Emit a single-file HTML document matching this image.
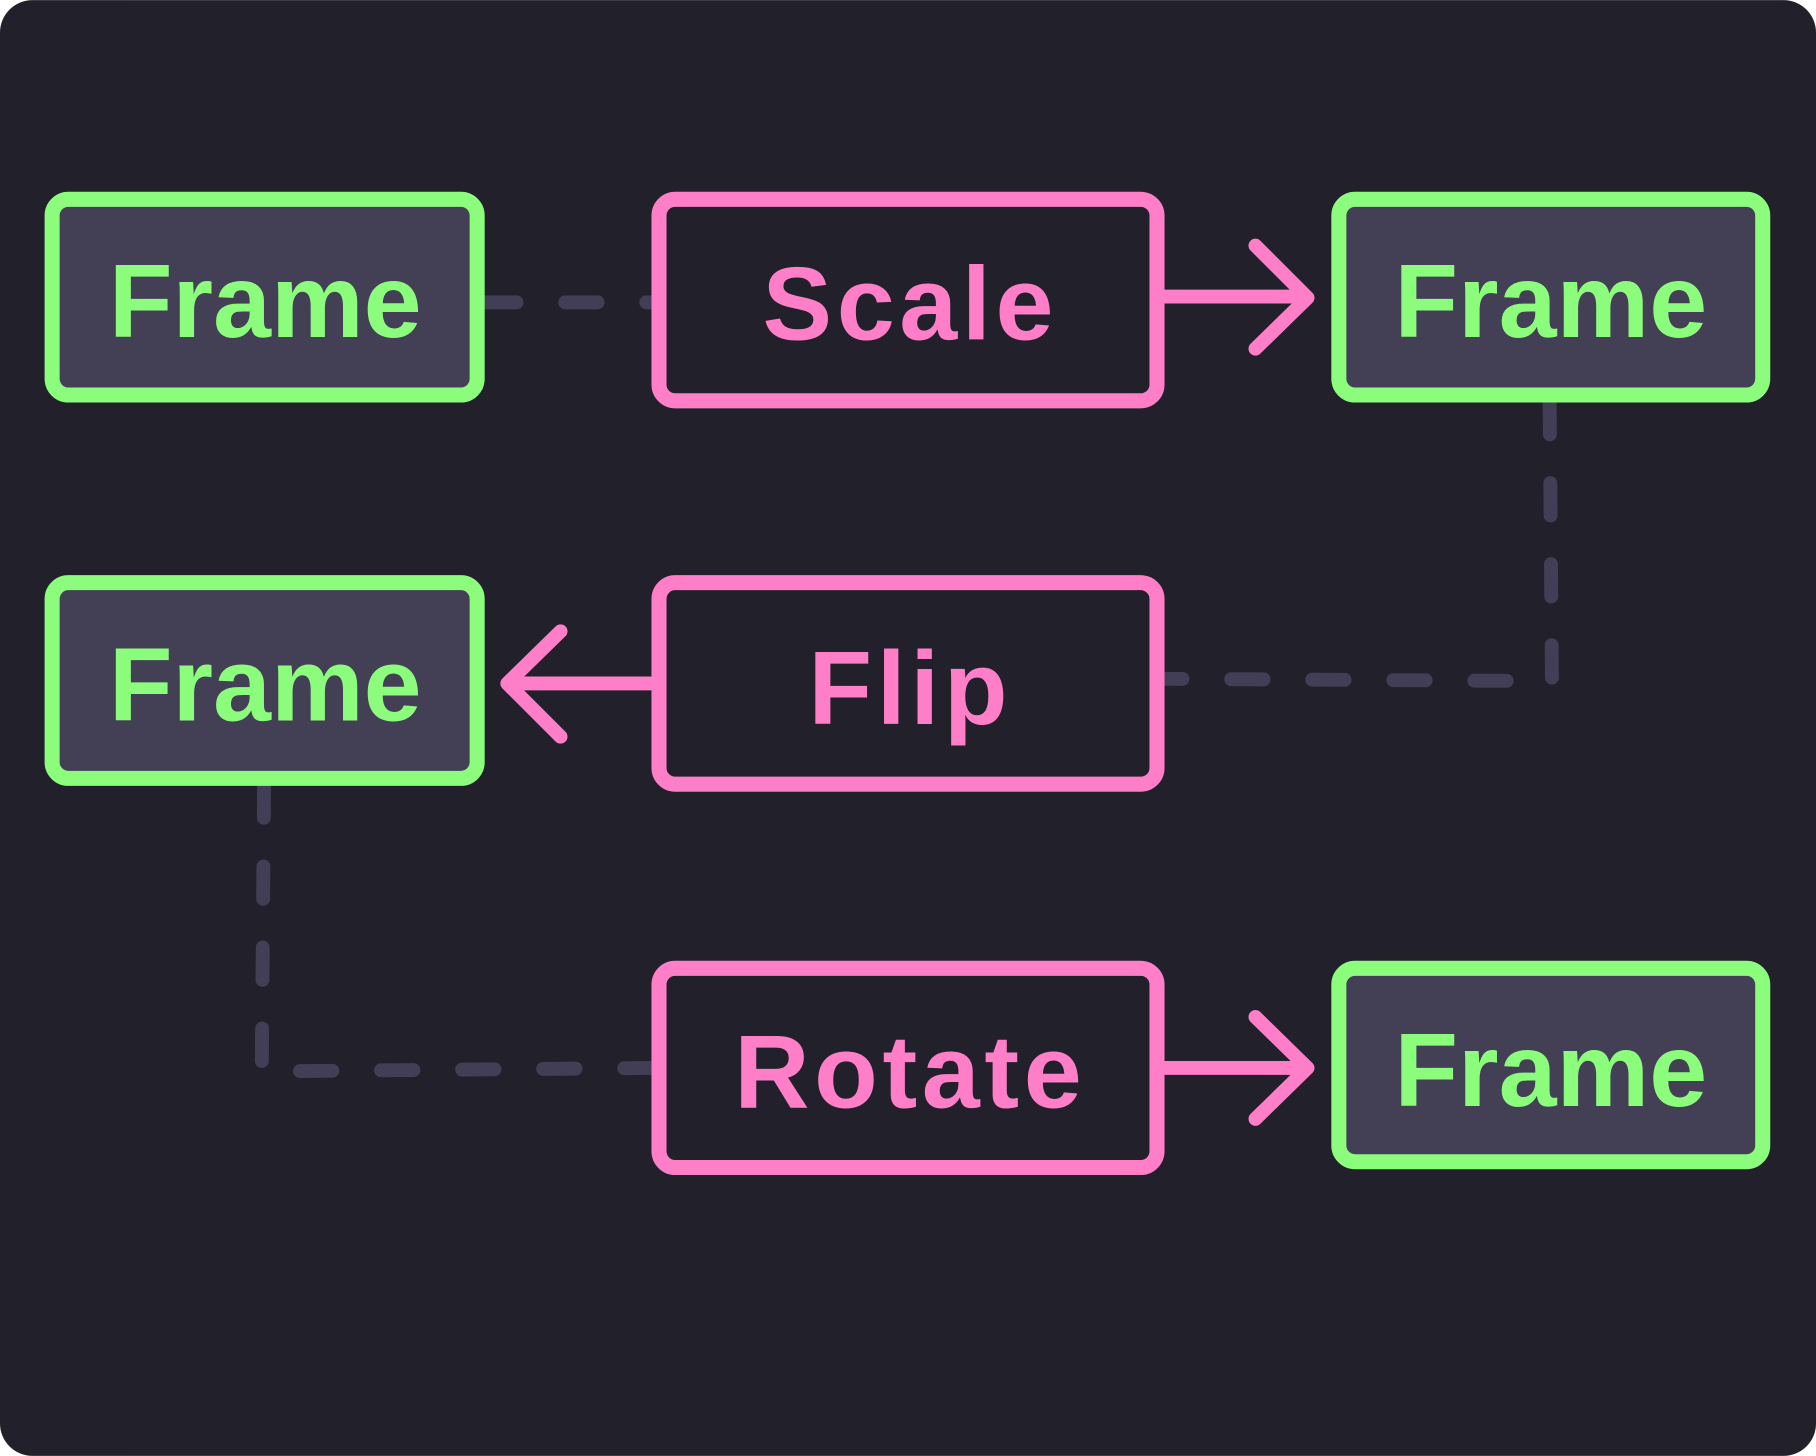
<!DOCTYPE html>
<html><head><meta charset="utf-8"><style>
html,body{margin:0;padding:0;background:#fff;}
svg{display:block;}
text{font-family:"Liberation Sans",sans-serif;font-weight:bold;font-size:90px;text-anchor:middle;}
</style></head><body>
<svg width="1816" height="1456" viewBox="0 0 1568 1257" xmlns="http://www.w3.org/2000/svg">
<rect x="0" y="0" width="1568" height="1257" rx="28" fill="#22202b"/>
<g fill="none" stroke="#423e55" stroke-width="12" stroke-linecap="round" stroke-linejoin="round" stroke-dasharray="28 42">
<path d="M418 261 L565 261"/>
<path d="M1338 347 L1340 588 L1005 586"/>
<path d="M228 678 L226 925 L565 922"/>
</g>
<g stroke-width="13" stroke-linejoin="round">
<rect x="45" y="172" width="367" height="169" rx="14" fill="#433f55" stroke="#8cfc7c"/>
<rect x="1156" y="172" width="366" height="169" rx="14" fill="#433f55" stroke="#8cfc7c"/>
<rect x="45" y="503" width="367" height="169" rx="14" fill="#433f55" stroke="#8cfc7c"/>
<rect x="1156" y="836" width="366" height="167" rx="14" fill="#433f55" stroke="#8cfc7c"/>
<rect x="569" y="172" width="430" height="174" rx="14" fill="#22202b" stroke="#ff7ec8"/>
<rect x="569" y="503" width="430" height="174" rx="14" fill="#22202b" stroke="#ff7ec8"/>
<rect x="569" y="836" width="430" height="172" rx="14" fill="#22202b" stroke="#ff7ec8"/>
</g>
<g fill="none" stroke="#ff7ec8" stroke-width="12" stroke-linecap="round" stroke-linejoin="round">
<path d="M1005 256 L1128 256 M1084 212 L1129 257 L1084 301"/>
<path d="M563 590 L440 590 M484 545 L438 590 L484 636"/>
<path d="M1005 922 L1128 922 M1084 878 L1129 922 L1084 966"/>
</g>
<g fill="#8cfc7c">
<text x="229" y="291">Frame</text>
<text x="1339" y="291">Frame</text>
<text x="229" y="622">Frame</text>
<text x="1339" y="955">Frame</text>
</g>
<g fill="#ff7ec8" style="letter-spacing:4px">
<text x="786" y="293">Scale</text>
<text x="786" y="625">Flip</text>
<text x="786" y="956">Rotate</text>
</g>
</svg>
</body></html>
